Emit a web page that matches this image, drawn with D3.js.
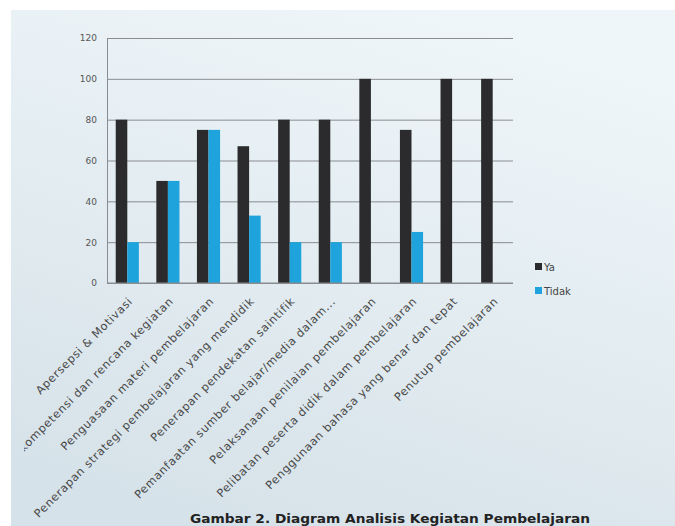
<!DOCTYPE html>
<html><head><meta charset="utf-8">
<script src="https://cdn.jsdelivr.net/npm/d3@7"></script>
<style>html,body{margin:0;padding:0;background:#fff;}svg{display:block;}</style>
</head><body>
<script>
const categories = [
  "Apersepsi & Motivasi",
  "Penyampaian kompetensi dan rencana kegiatan",
  "Penguasaan materi pembelajaran",
  "Penerapan strategi pembelajaran yang mendidik",
  "Penerapan pendekatan saintifik",
  "Pemanfaatan sumber belajar/media dalam...",
  "Pelaksanaan penilaian pembelajaran",
  "Pelibatan peserta didik dalam pembelajaran",
  "Penggunaan bahasa yang benar dan tepat",
  "Penutup pembelajaran"
];
const seriesNames = ["Ya", "Tidak"];
const yaValues = [80, 50, 75, 67, 80, 80, 100, 75, 100, 100];
const tidakValues = [20, 50, 75, 33, 20, 20, 0, 25, 0, 0];
const yTicks = [0, 20, 40, 60, 80, 100, 120];
const titleText = "Gambar 2. Diagram Analisis Kegiatan Pembelajaran";

(function () {
const W = 675, H = 526;
const colors = {Ya: "#2b2b2d", Tidak: "#1ea3dc"};
const svg = d3.select("body").append("svg").attr("width", W).attr("height", H);
const defs = svg.append("defs");
const g1 = defs.append("linearGradient").attr("id", "bg").attr("x1", "0.7").attr("y1", "0").attr("x2", "0.3").attr("y2", "1");
g1.append("stop").attr("offset", "0").attr("stop-color", "#eff6f9");
g1.append("stop").attr("offset", "1").attr("stop-color", "#d6e2e9");
defs.append("clipPath").attr("id", "clipArea").append("rect").attr("x", 24).attr("y", 10).attr("width", W - 24).attr("height", H - 10);

svg.append("rect").attr("x", 11).attr("y", 10).attr("width", W - 11).attr("height", H - 10).attr("fill", "url(#bg)");

const pLeft = 107, pRight = 513, pTop = 38, pBottom = 283;
const x0 = d3.scaleBand().domain(d3.range(categories.length)).range([pLeft, pRight]).paddingInner(0.43).paddingOuter(0.215);
const x1 = d3.scaleBand().domain(seriesNames).range([0, x0.bandwidth()]);
const y = d3.scaleLinear().domain([0, 120]).range([pBottom, pTop]);

const yAxis = d3.axisLeft(y).tickValues(yTicks).tickSize(-(pRight - pLeft)).tickPadding(10);
const ga = svg.append("g").attr("transform", `translate(${pLeft},0)`).call(yAxis);
ga.select(".domain").attr("stroke", "#8a8d90");
ga.selectAll(".tick line").attr("stroke", "#8a8d90");
ga.selectAll(".tick text").attr("fill", "#555").style("font-family", "DejaVu Sans, sans-serif").style("font-size", "9px");

const data = categories.map((c, i) => ({i, Ya: yaValues[i], Tidak: tidakValues[i]}));
const grp = svg.append("g").selectAll("g").data(data).join("g").attr("transform", d => `translate(${x0(d.i)},0)`);
grp.selectAll("rect").data(d => seriesNames.map(s => ({s, v: d[s]}))).join("rect")
  .attr("x", d => x1(d.s)).attr("width", x1.bandwidth())
  .attr("y", d => y(d.v)).attr("height", d => pBottom - y(d.v))
  .attr("fill", d => colors[d.s]);

svg.append("line").attr("x1", pLeft).attr("x2", pRight).attr("y1", pBottom).attr("y2", pBottom).attr("stroke", "#8a8d90");

const lab = svg.append("g").attr("clip-path", "url(#clipArea)");
lab.selectAll("text").data(categories).join("text")
  .attr("transform", (d, i) => `translate(${x0(i) + x0.bandwidth() / 2 + 6},${pBottom + 19}) rotate(-45)`)
  .attr("text-anchor", "end")
  .attr("fill", "#4a4a4a")
  .style("font-family", "DejaVu Sans, sans-serif").style("font-size", "11.3px").style("letter-spacing", "0.65px")
  .text(d => d);

const lg = svg.append("g").selectAll("g").data(seriesNames).join("g")
  .attr("transform", (d, i) => `translate(535,${267 + i * 24})`);
lg.append("rect").attr("x", 0).attr("y", -4).attr("width", 7).attr("height", 7).attr("fill", d => colors[d]);
lg.append("text").attr("x", 9).attr("y", 4).attr("fill", "#444")
  .style("font-family", "DejaVu Sans, sans-serif").style("font-size", "10px").text(d => d);

svg.append("text").attr("x", 390).attr("y", 523).attr("text-anchor", "middle")
  .attr("fill", "#222").style("font-family", "DejaVu Sans, sans-serif").style("font-weight", "bold").style("font-size", "12.5px")
  .attr("textLength", 400).attr("lengthAdjust", "spacingAndGlyphs")
  .text(titleText);
})();
</script>
</body></html>
